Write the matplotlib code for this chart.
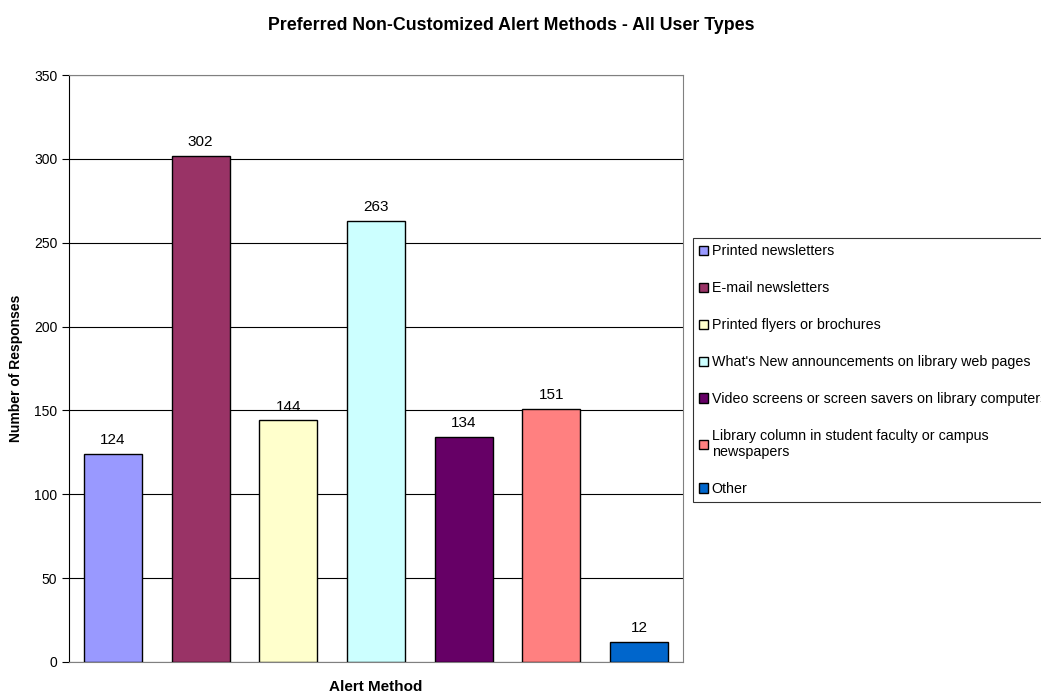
import matplotlib
matplotlib.use("Agg")
import matplotlib.pyplot as plt

plt.rcParams['font.family'] = ['Liberation Sans', 'DejaVu Sans']

# data
methods = ["Printed newsletters",
           "E-mail newsletters",
           "Printed flyers or brochures",
           "What's New announcements on library web pages",
           "Video screens or screen savers on library computers",
           "Library column in student faculty or campus\nnewspapers",
           "Other"]
responses = [124, 302, 144, 263, 134, 151, 12]
colors = ["#9999FF", "#993366", "#FFFFCC", "#CCFFFF", "#660066", "#FF8080", "#0066CC"]

fig = plt.figure(figsize=(10.41, 6.96), dpi=100)
ax = fig.add_axes([0.0663, 0.0489, 0.5898, 0.8433])

for i in range(len(methods)):
    ax.bar(i, responses[i], width=0.66, color=colors[i], edgecolor='black',
           linewidth=1.0, label=methods[i], zorder=3)
    ax.annotate(str(responses[i]), (i, responses[i]), xytext=(0, 5),
                textcoords='offset points', ha='center', va='bottom',
                fontsize=11, zorder=4)

ax.set_xlim(-0.5, len(methods) - 0.5)
ax.set_ylim(0, 350)
ax.set_yticks(range(0, 351, 50))
ax.set_xticks([])
ax.tick_params(axis='y', labelsize=10, length=5, direction='out', width=0.8)
ax.yaxis.grid(True, color='black', linewidth=0.8, zorder=0)

for s in ['top', 'right', 'bottom']:
    ax.spines[s].set_color('#808080')
    ax.spines[s].set_linewidth(0.8)
ax.spines['left'].set_color('black')
ax.spines['left'].set_linewidth(0.8)

ax.set_ylabel("Number of Responses", fontsize=10, fontweight='bold', labelpad=8)
ax.set_xlabel("Alert Method", fontsize=11, fontweight='bold', labelpad=13)
fig.suptitle("Preferred Non-Customized Alert Methods - All User Types",
             fontsize=12.8, fontweight='bold', x=0.491, y=0.975)

# legend runs off the right edge, as in the original
leg = fig.legend(loc='upper left', bbox_to_anchor=(0.6657, 0.658), fontsize=10.3,
                 handlelength=0.6, handleheight=0.6, handletextpad=0.25,
                 labelspacing=1.6, borderpad=0.45, borderaxespad=0,
                 frameon=True, fancybox=False, edgecolor='black')
leg.get_frame().set_linewidth(0.8)

fig.savefig("out.png", dpi=100)
